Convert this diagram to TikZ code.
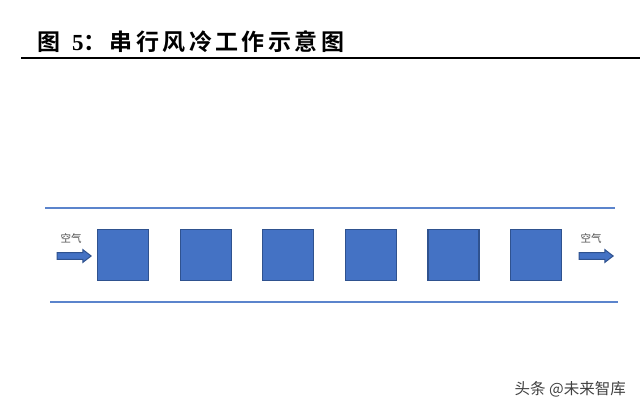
\documentclass[tikz,border=0pt]{standalone}
\usepackage{fontspec}
\newfontfamily\cjk{Noto Sans CJK SC}
\newfontfamily\cjkb{Noto Sans CJK SC Bold}
\newfontfamily\titlenum{Liberation Serif}
\usetikzlibrary{shapes.arrows}
\definecolor{boxfill}{HTML}{4472C4}
\definecolor{boxedge}{HTML}{2F528F}
\definecolor{duct}{HTML}{5B84CC}
\begin{document}
\begin{tikzpicture}[x=1pt,y=-1pt,
  block/.style={draw=boxedge,fill=boxfill,line width=1.2pt,minimum size=51pt,inner sep=0pt},
  flow/.style={single arrow,draw=boxedge,fill=boxfill,line width=1pt,inner xsep=0pt,inner ysep=2.8pt,
     minimum height=34pt,single arrow head extend=3pt,single arrow tip angle=75},
  ductline/.style={draw=duct,line width=2pt},
  lbl/.style={font=\cjk\fontsize{10.5}{10.5}\selectfont,text=black!70,inner sep=0pt}]
\useasboundingbox (0,0) rectangle (640,409);
% title
\node[anchor=base west,inner sep=0pt] (title) at (37,51)
  {\fontsize{23}{23}\selectfont\cjkb 图\hspace{12pt}{\titlenum\bfseries 5}：\hspace{3pt}\addfontfeature{LetterSpace=15}串行风冷工作示意图};
\coordinate (ruleL) at (21,58);
\coordinate (ruleR) at (640,58);
\draw[line width=2pt] (ruleL) -- (ruleR);
% duct
\coordinate (topL) at (45,208);
\coordinate (topR) at (615,208);
\coordinate (botL) at (50,302);
\coordinate (botR) at (618,302);
\draw[ductline] (topL) -- (topR);
\draw[ductline] (botL) -- (botR);
% blocks
\foreach \i in {0,...,5}{
  \node[block] (b\i) at (123+82.6*\i,255) {};
}
% air arrows
\node[flow] (inarrow) at (72,256) {};
\node[flow] (outarrow) at (594,256) {};
\node[lbl] (inlbl) at (71,238) {空气};
\node[lbl] (outlbl) at (591,238) {空气};
% watermark
\node[anchor=east,inner sep=0pt,font=\cjk\fontsize{15.5}{15.5}\selectfont,text=black!75] (wm) at (626,389) {头条 @未来智库};
\end{tikzpicture}
\end{document}
